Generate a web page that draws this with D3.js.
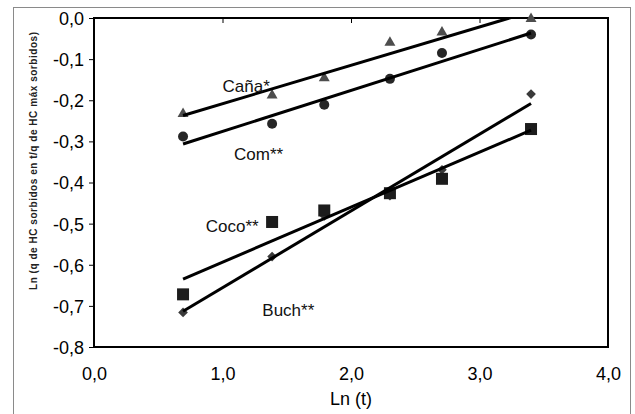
<!DOCTYPE html>
<html><head><meta charset="utf-8">
<script src="https://cdn.jsdelivr.net/npm/d3@7"></script>
<style>body{margin:0;background:#fff;} svg{display:block;} text{font-family:"Liberation Sans",Arial,sans-serif;}</style>
</head><body><svg id="c" width="635" height="414"></svg>
<script>
// Ln(t), t = 2, 4, 6, 10, 15, 30
const lnT = [0.693, 1.386, 1.792, 2.303, 2.708, 3.401];
const cana = [-0.233, -0.188, -0.146, -0.060, -0.035, -0.002];
const com  = [-0.288, -0.257, -0.211, -0.148, -0.085, -0.040];
const buch = [-0.716, -0.580, -0.481, -0.432, -0.369, -0.185];
const coco = [-0.672, -0.496, -0.468, -0.426, -0.391, -0.270];
const seriesNames = ["Buch**", "Coco**", "Com**", "Caña*"];
const xTicks = [0, 1, 2, 3, 4];
const yTicks = [0, -0.1, -0.2, -0.3, -0.4, -0.5, -0.6, -0.7, -0.8];
const xTitle = "Ln (t)";
const yTitle = "Ln (q de HC sorbidos en t/q de HC máx sorbidos)";

const svg = d3.select("#c");
const L = 94, R = 608, T = 18, B = 347;
const x = d3.scaleLinear().domain([0, 4]).range([L, R]);
const y = d3.scaleLinear().domain([0, -0.8]).range([T, B]);
const loc = d3.formatLocale({decimal: ",", thousands: ".", grouping: [3], currency: ["", ""], minus: "-"});
const fmt = loc.format(".1f");

// outer frame
svg.append("rect").attr("x", 13.5).attr("y", 7.5).attr("width", 617).attr("height", 420)
  .attr("fill", "none").attr("stroke", "#8a8a8a").attr("stroke-width", 1);

// y axis
const ya = svg.append("g").attr("transform", `translate(${L},0)`)
  .call(d3.axisLeft(y).tickValues(yTicks).tickSize(5).tickPadding(5).tickFormat(fmt));
ya.select(".domain").remove();
ya.selectAll("line").attr("stroke", "#000");
ya.selectAll("text").attr("font-size", 18).attr("fill", "#000")
  .attr("font-family", "'Liberation Sans',Arial,sans-serif").attr("dy", "0.36em");

// x tick marks at the top, pointing into the plot
const xt = svg.append("g").attr("transform", `translate(0,${T})`)
  .call(d3.axisBottom(x).tickValues(xTicks).tickSize(5).tickFormat(""));
xt.select(".domain").remove();
xt.selectAll("line").attr("stroke", "#000");

// x labels at bottom
const xb = svg.append("g").attr("transform", `translate(0,${B})`)
  .call(d3.axisBottom(x).tickValues(xTicks).tickSize(0).tickPadding(20).tickFormat(fmt));
xb.select(".domain").remove();
xb.selectAll("text").attr("font-size", 18).attr("fill", "#000")
  .attr("font-family", "'Liberation Sans',Arial,sans-serif");

// plot border
svg.append("rect").attr("x", L).attr("y", T).attr("width", R - L).attr("height", B - T)
  .attr("fill", "none").attr("stroke", "#000").attr("stroke-width", 2);

// titles
svg.append("text").attr("x", x(2)).attr("y", 405).attr("text-anchor", "middle")
  .attr("font-size", 18).text(xTitle);
svg.append("text").attr("transform", "translate(37,161) rotate(-90)")
  .attr("text-anchor", "middle").attr("font-size", 10).attr("font-weight", "bold")
  .attr("textLength", 258).attr("lengthAdjust", "spacing").attr("fill", "#222").text(yTitle);

// markers
const pts = (ys) => lnT.map((v, i) => [v, ys[i]]);
const gM = svg.append("g");
gM.selectAll(".cn").data(pts(cana)).join("path")
  .attr("d", d3.symbol(d3.symbolTriangle, 52)).attr("transform", d => `translate(${x(d[0])},${y(d[1])})`)
  .attr("fill", "#4d4d4d");
gM.selectAll(".cm").data(pts(com)).join("circle")
  .attr("cx", d => x(d[0])).attr("cy", d => y(d[1])).attr("r", 5).attr("fill", "#262626");
gM.selectAll(".bu").data(pts(buch)).join("path")
  .attr("d", d3.symbol(d3.symbolDiamond2, 60)).attr("transform", d => `translate(${x(d[0])},${y(d[1])})`)
  .attr("fill", "#3a3a3a");
gM.selectAll(".co").data(pts(coco)).join("rect")
  .attr("x", d => x(d[0]) - 6).attr("y", d => y(d[1]) - 6).attr("width", 12).attr("height", 12)
  .attr("fill", "#1c1c1c");

// regression lines (clipped to plot)
svg.append("clipPath").attr("id", "clip").append("rect")
  .attr("x", L).attr("y", T - 1).attr("width", R - L).attr("height", B - T + 1);
function fit(ys) {
  const mx = d3.mean(lnT), my = d3.mean(ys);
  let sxy = 0, sxx = 0;
  lnT.forEach((v, i) => { sxy += (v - mx) * (ys[i] - my); sxx += (v - mx) * (v - mx); });
  const b = sxy / sxx, a = my - b * mx;
  const x0 = lnT[0], x1 = lnT[lnT.length - 1];
  return [[x0, a + b * x0], [x1, a + b * x1]];
}
const gL = svg.append("g").attr("clip-path", "url(#clip)");
[cana, com, buch, coco].forEach(ys => {
  gL.append("path").datum(fit(ys))
    .attr("d", d3.line().x(d => x(d[0])).y(d => y(d[1])))
    .attr("stroke", "#000").attr("stroke-width", 3).attr("fill", "none");
});

// series labels
const labels = [["Caña*", 1.0, -0.18], ["Com**", 1.09, -0.345], ["Coco**", 0.87, -0.52], ["Buch**", 1.31, -0.725]];
svg.append("g").selectAll("text").data(labels).join("text")
  .attr("x", d => x(d[1])).attr("y", d => y(d[2])).attr("font-size", 17).attr("fill", "#111")
  .text(d => d[0]);
</script></body></html>
